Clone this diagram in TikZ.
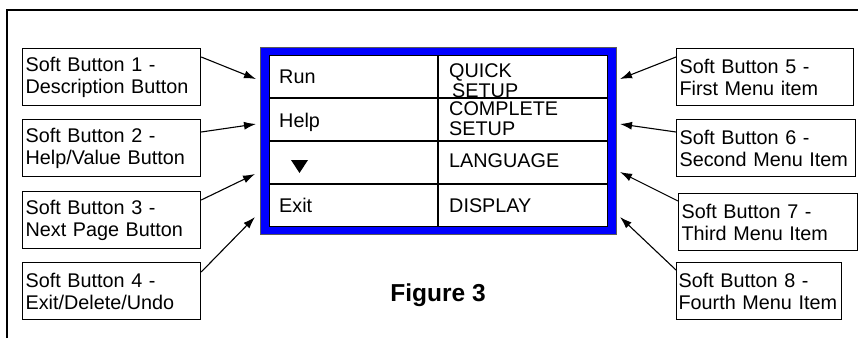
\documentclass[tikz,border=0pt]{standalone}
\usepackage{fontspec}
\setmainfont{Liberation Sans}
\usetikzlibrary{arrows.meta}
\definecolor{lcd_blue}{RGB}{0, 0, 255}
\definecolor{lcd_edge}{RGB}{90, 90, 90}
\tikzstyle{sb}=[draw=black,line width=1.2pt,anchor=north west,inner sep=3pt,
  minimum height=57pt,align=left,font=\fontsize{19.8}{22}\selectfont]
\tikzstyle{lt}=[anchor=base west,inner sep=0pt,align=left,
  font=\fontsize{19.8}{19.5}\selectfont]
\tikzstyle{pt}=[-{Latex[length=12pt,width=8pt]},line width=1.1pt]
\tikzstyle{none}=[]

\begin{document}
\begin{tikzpicture}[x=1pt,y=-1pt]
        \useasboundingbox (0, 0) rectangle (858, 338);
        \draw [line width=2pt] (7, 338) -- (7, 10) -- (858, 10);
        % display
        \filldraw [fill=lcd_blue, draw=lcd_edge, line width=0.8pt] (260, 47) rectangle (616, 234);
        \filldraw [fill=white, draw=black, line width=1pt] (269, 55) rectangle (607, 226);
        \draw [line width=1.2pt] (269, 98) -- (607, 98);
        \draw [line width=1.2pt] (269, 141) -- (607, 141);
        \draw [line width=1.2pt] (269, 184) -- (607, 184);
        \draw [line width=1.2pt] (438, 55) -- (438, 226);
        \fill (291, 160) -- (308, 160) -- (299.5, 173) -- cycle;
        \node [style=lt] (8) at (279, 83) {Run};
        \node [style=lt] (9) at (279, 127) {Help};
        \node [style=lt] (10) at (279, 212) {Exit};
        \node [style=lt] (11) at (449, 97) {QUICK\\\hspace*{3pt}SETUP};
        \node [style=lt] (12) at (449, 135) {COMPLETE\\SETUP};
        \node [style=lt] (13) at (449, 167) {LANGUAGE};
        \node [style=lt] (14) at (449, 212) {DISPLAY};
        \node [style=none, anchor=base, font=\bfseries\fontsize{24.5}{28}\selectfont] (15) at (438, 301) {Figure 3};
        % soft buttons
        \node [style=sb, text width=172pt] (0) at (22, 48) {Soft Button 1 -\\Description Button};
        \node [style=sb, text width=172pt] (1) at (22, 119) {Soft Button 2 -\\Help/Value Button};
        \node [style=sb, text width=172pt] (2) at (22, 191) {Soft Button 3 -\\Next Page Button};
        \node [style=sb, text width=172pt] (3) at (22, 262) {Soft Button 4 -\\Exit/Delete/Undo};
        \node [style=sb, text width=171pt] (4) at (676, 48) {Soft Button 5 -\\First Menu item};
        \node [style=sb, text width=173pt] (5) at (676, 119) {Soft Button 6 -\\Second Menu Item};
        \node [style=sb, text width=173pt] (6) at (678, 193) {Soft Button 7 -\\Third Menu Item};
        \node [style=sb, text width=161pt, inner sep=2pt] (7) at (676, 262) {Soft Button 8 -\\\mbox{Fourth Menu Item}};
        \coordinate (20) at (256, 79);
        \coordinate (21) at (256, 124);
        \coordinate (22) at (255, 174);
        \coordinate (23) at (255, 217);
        \coordinate (24) at (620, 79);
        \coordinate (25) at (620, 124);
        \coordinate (26) at (620, 172);
        \coordinate (27) at (620, 217);
        \draw [style=pt] ([yshift=-9pt]0.north east) to (20);
        \draw [style=pt] ([yshift=-13pt]1.north east) to (21);
        \draw [style=pt] ([yshift=-9pt]2.north east) to (22);
        \draw [style=pt] ([yshift=-10pt]3.north east) to (23);
        \draw [style=pt] ([yshift=-9pt]4.north west) to (24);
        \draw [style=pt] ([yshift=-13pt]5.north west) to (25);
        \draw [style=pt] ([yshift=-8pt]6.north west) to (26);
        \draw [style=pt] ([yshift=-8pt]7.north west) to (27);
    \end{tikzpicture}
\end{document}
